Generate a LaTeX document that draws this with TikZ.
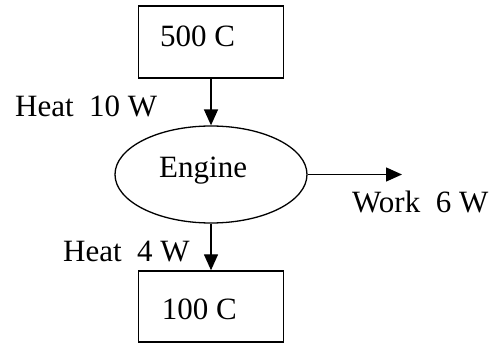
\documentclass[tikz,border=0pt]{standalone}
\usepackage{fontspec}
\setmainfont{Liberation Serif}
\usetikzlibrary{arrows.meta,shapes.geometric}
\definecolor{HeatInk}{HTML}{000000}
\tikzset{
  heat/box/.style={
    draw=HeatInk, line width=1.4pt, fill=white,
    minimum width=145pt, minimum height=72pt, inner sep=0pt
  },
  heat/engine/.style={
    draw=HeatInk, line width=1.3pt, ellipse,
    minimum width=192pt, minimum height=97pt, inner sep=0pt
  },
  heat/arrow/.style={
    -{Triangle[length=16pt,width=14pt]}, line width=1.4pt, draw=HeatInk
  },
  heat/text/.style={
    font=\fontsize{31}{37}\selectfont, text=HeatInk,
    inner sep=0pt, anchor=base west
  }
}
\begin{document}
\begin{tikzpicture}[x=1pt,y=1pt]
  \useasboundingbox (0,0) rectangle (496,343);
  \node[heat/box] (hot) at (211,301) {};
  \node[heat/engine] (engine) at (211,168.5) {};
  \node[heat/box,minimum height=71pt] (cold) at (211,36.5) {};
  \coordinate (workend) at (402,168.5);
  \node[heat/text] (hotlbl) at (160,296.3) {500 C};
  \node[heat/text] (enginelbl) at (159,165.8) {Engine};
  \node[heat/text] (coldlbl) at (161.7,23) {100 C};
  \draw[heat/arrow] (hot) -- (engine);
  \draw[heat/arrow] (engine) -- (workend);
  \draw[heat/arrow] (engine) -- (cold);
  \node[heat/text] (qin) at (15,226) {Heat~~10 W};
  \node[heat/text] (work) at (352,130) {Work~~6 W};
  \node[heat/text] (qout) at (63,81) {Heat~~4 W};
\end{tikzpicture}
\end{document}
